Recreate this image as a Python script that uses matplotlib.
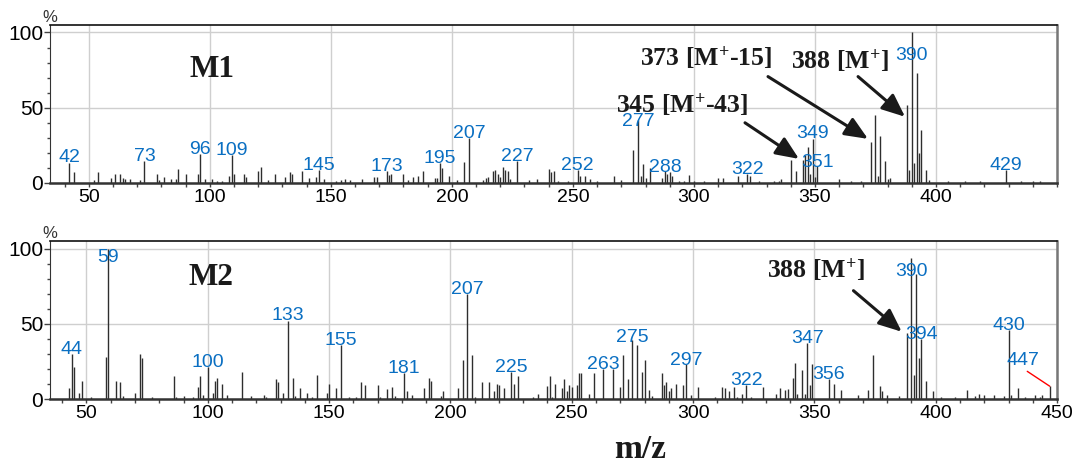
import matplotlib
matplotlib.use('Agg')
from matplotlib import pyplot as plt
from matplotlib.ticker import MultipleLocator

# M1 spectrum: m/z and relative intensity (%)
m1_mz = [42, 44, 52, 54, 59, 61, 63, 64, 65, 67,
         71, 73, 78, 79, 81, 84, 86, 87, 90, 95,
         96, 98, 101, 103, 105, 108, 109, 110, 114, 115,
         120, 121, 124, 127, 131, 133, 134, 138, 141, 144,
         145, 147, 152, 154, 156, 158, 163, 168, 169, 173,
         174, 175, 180, 182, 184, 186, 188, 193, 194, 195,
         196, 199, 202, 205, 207, 213, 214, 215, 217, 218,
         219, 220, 221, 222, 223, 224, 227, 232, 235, 240,
         241, 242, 244, 248, 252, 253, 255, 257, 260, 267,
         270, 275, 277, 278, 279, 280, 282, 287, 288, 289,
         290, 291, 294, 296, 298, 300, 304, 310, 312, 318,
         322, 323, 327, 333, 335, 336, 340, 342, 345, 346,
         347, 348, 349, 350, 351, 360, 365, 369, 373, 375,
         376, 377, 379, 380, 381, 388, 389, 390, 391, 392,
         393, 394, 396, 397, 405, 412, 418, 429, 435, 440,
         443]
m1_int = [13.3, 7, 2, 7, 3.3, 6, 6, 3, 2.5, 2.5,
          2, 14.7, 6, 2, 4, 2.5, 2.5, 9, 6, 6,
          19, 2.5, 2.5, 1.5, 1.5, 4.7, 18.4, 6, 6, 4,
          8, 10.7, 2, 6, 4, 7.3, 6, 8, 3, 4,
          8.9, 2.5, 1.5, 2, 2.5, 2, 2.5, 4, 4, 8,
          5, 6, 6, 2, 4, 4.4, 8, 3, 3.5, 13.3,
          10, 4.4, 2, 14, 29.6, 2, 3, 4, 8, 8.4,
          6, 4, 10.7, 8.4, 7.7, 2.5, 14.7, 2, 2.5, 9.6,
          7, 8, 1.5, 1.5, 8.4, 4.7, 4.4, 2.5, 1.5, 4.4,
          2, 21.8, 41.8, 4.4, 12.9, 3.5, 10, 3, 7.8, 6,
          7, 4.5, 1.5, 1.5, 5.5, 1.5, 1.5, 3.3, 3.3, 4.4,
          5.8, 4.4, 1.5, 1.5, 1.5, 2.5, 15.6, 8, 15, 18.4,
          23.6, 6, 28.9, 4, 11, 2.5, 1.5, 1.5, 26.9, 45,
          4.4, 31, 14.7, 2.5, 3.3, 51.8, 8.4, 100, 13.3, 72.9,
          19.6, 35.1, 8.4, 2, 1.5, 1.5, 1.5, 8.9, 1.5, 1.5,
          1.5]
m1_labels = [42, 73, 96, 109, 145, 173, 195, 207, 227, 252,
             277, 288, 322, 349, 351, 390, 429]
m1_label_y = [14, 14.7, 19.1, 18.4, 8.9, 8, 13.3, 29.6, 14.7, 8.4,
              37.8, 7.3, 5.8, 29.6, 10.7, 81.8, 8.9]

# M2 spectrum
m2_mz = [43, 44, 45, 47, 48, 52, 58, 59, 62, 64,
         65, 70, 72, 73, 77, 86, 87, 90, 94, 96,
         97, 98, 100, 102, 103, 104, 106, 108, 114, 118,
         123, 124, 128, 129, 131, 133, 135, 136, 138, 141,
         143, 145, 149, 150, 153, 155, 158, 161, 163, 165,
         170, 171, 174, 176, 177, 178, 181, 182, 184, 189,
         191, 192, 196, 197, 203, 205, 206, 207, 209, 210,
         213, 216, 218, 219, 220, 222, 225, 226, 228, 234,
         236, 240, 241, 242, 243, 246, 247, 248, 249, 250,
         252, 253, 254, 257, 259, 263, 267, 270, 271, 273,
         275, 277, 279, 280, 282, 283, 287, 288, 289, 290,
         291, 293, 296, 297, 299, 302, 309, 312, 313, 315,
         317, 318, 320, 322, 324, 329, 334, 336, 338, 339,
         341, 342, 343, 345, 346, 347, 348, 349, 356, 358,
         361, 368, 372, 374, 377, 378, 380, 385, 388, 390,
         391, 392, 393, 394, 396, 399, 402, 408, 413, 416,
         418, 420, 424, 428, 430, 431, 434, 437, 441, 443,
         444, 447]
m2_int = [7, 30, 21, 4, 12, 1.5, 28, 100, 12, 11,
          2, 4, 30, 27, 1.5, 15, 1.5, 2, 1.5, 8,
          15, 2.5, 21, 4, 12, 14, 10, 3, 18, 2,
          2.5, 1.5, 13, 11, 4, 52, 14, 2, 7, 4,
          1.5, 16, 4, 10, 7, 36, 1.5, 1.5, 11, 9,
          9, 1.5, 6.5, 8, 2, 1, 17, 5, 2.5, 7,
          14, 12, 2, 5, 7, 26, 1, 70, 29, 1.5,
          11, 11, 5, 10, 9, 7, 18, 10, 15, 1.5,
          3.5, 8.5, 15, 1.5, 10, 7.5, 13, 5, 9, 8,
          9, 17, 17, 3.5, 17, 20, 20, 8, 29, 13.5,
          39, 36, 18, 26, 6, 2, 17, 9, 11, 5,
          7, 10, 9, 23, 2.5, 8, 1.5, 8, 7, 5.5,
          8, 1.5, 3.5, 9, 1.5, 8, 3.5, 7.5, 6, 6.5,
          14, 24, 3.5, 19, 3.5, 37, 9, 23, 13.5, 10,
          6, 2.5, 6, 29, 8.5, 5, 2.5, 2, 44, 94,
          16, 83, 27, 40, 12, 5.5, 1.5, 1.5, 6, 2,
          3.5, 2.5, 2.5, 2, 46, 3, 7, 1.5, 3, 1.5,
          2.5, 8.5]
m2_labels = [44, 59, 100, 133, 155, 181, 207, 225, 263, 275,
             297, 322, 347, 356, 390, 394, 430]
m2_label_y = [29.6, 91.3, 21.3, 52.4, 35.8, 17.3, 69.6, 18, 20.2, 38,
              22.4, 9.1, 36.9, 13.6, 82, 40.2, 45.8]

sans = ['Liberation Sans', 'DejaVu Sans']
serif = ['Liberation Serif', 'DejaVu Serif']
blue = '#0a6fc2'

plt.rcParams['font.family'] = sans
plt.rcParams['mathtext.fontset'] = 'custom'
plt.rcParams['mathtext.rm'] = 'Liberation Serif:bold'
plt.rcParams['mathtext.it'] = 'Liberation Serif:bold'
plt.rcParams['mathtext.bf'] = 'Liberation Serif:bold'

fig = plt.figure(figsize=(10.74, 4.65), dpi=100)
ax1 = fig.add_axes([0.0466, 0.6065, 0.9376, 0.3398])
ax2 = fig.add_axes([0.0466, 0.1419, 0.9376, 0.3398])


def draw_spectrum(ax, mz, inten, labels, label_y, xlim, xticks):
    ax.vlines(mz, 0, inten, colors='#2e2e2e', linewidth=1.0)
    for lab, ly in zip(labels, label_y):
        ax.text(lab, ly, str(lab), color=blue, fontsize=14,
                ha='center', va='baseline')
    ax.set_xlim(*xlim)
    ax.set_ylim(0, 105)
    ax.set_xticks(xticks)
    ax.xaxis.set_minor_locator(MultipleLocator(10))
    ax.set_yticks([0, 50, 100])
    ax.set_yticklabels(['0', '50', '100'], fontsize=15)
    ax.yaxis.set_minor_locator(MultipleLocator(10))
    ax.tick_params(axis='x', which='both', direction='out', length=3,
                   width=1, color='#444444', labelsize=14, pad=1.5)
    ax.tick_params(axis='y', which='major', length=4, width=1,
                   color='#444444', pad=1)
    ax.tick_params(axis='y', which='minor', length=2.5, width=1,
                   color='#444444')
    ax.grid(True, which='major', color='#cfcfcf', linewidth=1)
    ax.set_axisbelow(True)
    ax.spines['top'].set_color('#111111')
    ax.spines['top'].set_linewidth(1.2)
    ax.spines['right'].set_color('#777777')
    ax.spines['right'].set_linewidth(1.8)
    ax.spines['left'].set_color('#333333')
    ax.spines['bottom'].set_color('#333333')
    ax.spines['bottom'].set_linewidth(1.8)
    ax.text(0, 1.0, '%', transform=ax.transAxes, fontsize=12,
            ha='center', va='bottom', color='#333333')


draw_spectrum(ax1, m1_mz, m1_int, m1_labels, m1_label_y,
              (34, 450), range(50, 401, 50))
draw_spectrum(ax2, m2_mz, m2_int, m2_labels, m2_label_y,
              (35, 450), range(50, 451, 50))

# 447 label sits off to the left with a red leader line
ax2.annotate('447', xy=(447, m2_int[m2_mz.index(447)]), xytext=(436, 22.9),
             color=blue, fontsize=14, ha='center', va='baseline',
             arrowprops=dict(arrowstyle='-', color='red', lw=1,
                             relpos=(0.5, 0.0), shrinkA=0, shrinkB=0))

# fragment annotations
big = dict(family=serif, weight='bold', color='#1a1a1a')
arrow = dict(arrowstyle='-|>,head_length=0.7,head_width=0.3', color='#1a1a1a',
             lw=2.2, mutation_scale=20, shrinkA=0, shrinkB=0)

ax1.text(101, 70.4, 'M1', fontsize=22.5, ha='center', va='baseline', **big)
ax1.text(277.7, 78, '373 [M$^{+}$-15]', fontsize=18.5, va='baseline', **big)
ax1.text(340, 76, '388 [M$^{+}$]', fontsize=18.5, va='baseline', **big)
ax1.text(268, 46.7, '345 [M$^{+}$-43]', fontsize=18.5, va='baseline', **big)
ax1.annotate('', xy=(371.9, 29.3), xytext=(330.6, 70.7), arrowprops=arrow)
ax1.annotate('', xy=(387.2, 44), xytext=(367.8, 70.7), arrowprops=arrow)
ax1.annotate('', xy=(343.4, 16), xytext=(321.1, 40), arrowprops=arrow)

ax2.text(101.3, 76, 'M2', fontsize=22.5, ha='center', va='baseline', **big)
ax2.text(330.3, 80.7, '388 [M$^{+}$]', fontsize=18.5, va='baseline', **big)
ax2.annotate('', xy=(386, 44.7), xytext=(366.1, 72), arrowprops=arrow)

fig.text(0.5964, 0.016, 'm/z', fontsize=24, ha='center', va='baseline', **big)

fig.savefig('out.png', dpi=100)
